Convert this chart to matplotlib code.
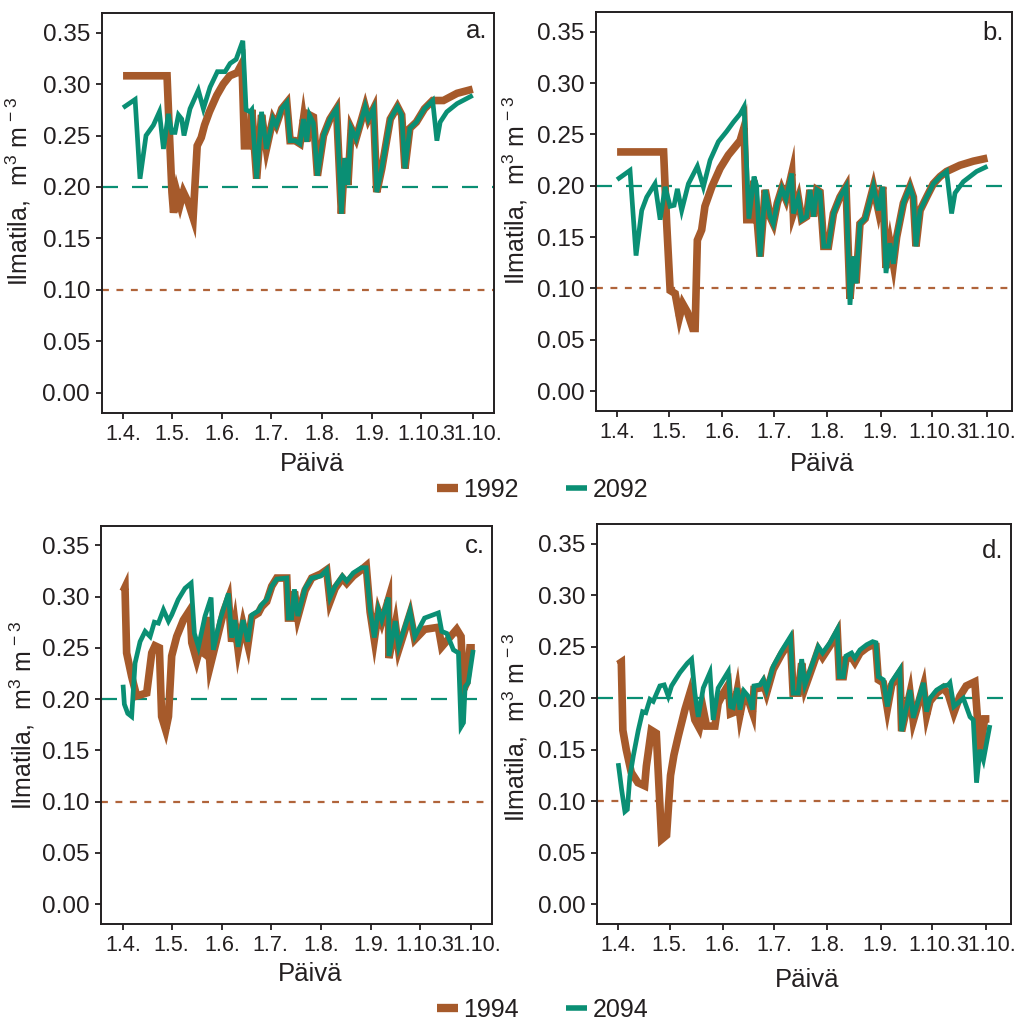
import matplotlib
matplotlib.use("Agg")
import matplotlib.pyplot as plt
from matplotlib.lines import Line2D

plt.rcParams["font.family"] = ["Liberation Sans", "DejaVu Sans"]
plt.rcParams["mathtext.fontset"] = "custom"
plt.rcParams["mathtext.rm"] = "Liberation Sans"
plt.rcParams["mathtext.it"] = "Liberation Sans:italic"

# days counted from 1.4.
tick_days = [0, 30, 61, 91, 122, 153, 183, 214.5]
tick_labels = ["1.4.", "1.5.", "1.6.", "1.7.", "1.8.", "1.9.", "1.10.", "31.10."]
y_ticks = [0.00, 0.05, 0.10, 0.15, 0.20, 0.25, 0.30, 0.35]

limit_2092 = 0.20
limit_1992 = 0.10

# panel a
a_days_1992 = [0, 27, 28.5, 30, 31, 33, 35, 37, 40, 43, 45.5, 48, 50, 53, 57.5, 61.5, 65.5, 70, 73, 74.5,
               78, 79, 82, 85, 88, 92, 94, 97.4, 100.5, 102.5, 105.6, 108.6, 110.7, 112.7, 114.4, 116.8,
               119.3, 123, 127, 131, 134, 136, 138, 140, 143, 148.6, 150.6, 153.7, 155.7, 158.8, 164,
               168.4, 171, 173, 176, 180, 185, 190, 196.6, 205, 214.6]
a_vals_1992 = [0.308, 0.308, 0.250, 0.195, 0.175, 0.195, 0.183, 0.195, 0.185, 0.170, 0.240, 0.248, 0.260,
               0.273, 0.289, 0.300, 0.308, 0.311, 0.320, 0.240, 0.240, 0.275, 0.208, 0.270, 0.237, 0.266,
               0.260, 0.276, 0.282, 0.245, 0.245, 0.242, 0.266, 0.244, 0.270, 0.268, 0.211, 0.250, 0.266,
               0.276, 0.174, 0.228, 0.202, 0.257, 0.247, 0.278, 0.266, 0.276, 0.195, 0.218, 0.266, 0.278,
               0.270, 0.218, 0.257, 0.263, 0.276, 0.284, 0.284, 0.291, 0.295]
a_days_2092 = [0, 7.4, 10.4, 14.1, 18.6, 22.3, 24.8, 27.8, 29.9, 31.9, 34, 36, 37.4, 41.1, 46.2, 49.3, 53.4,
               57.9, 62.6, 65.7, 69.4, 73.5, 75.5, 78, 79, 82, 85, 88, 92, 94, 97.4, 100.5, 102.5, 105.6,
               108.6, 110.7, 112.7, 114.4, 116.8, 119.3, 123, 127, 131, 134, 136, 138, 140, 143, 148.6,
               150.6, 153.7, 155.7, 158.8, 164, 168.4, 171, 173, 176, 180, 185, 190, 192.6, 194.6, 198.7,
               205, 214.6]
a_vals_2092 = [0.277, 0.285, 0.208, 0.250, 0.260, 0.273, 0.237, 0.271, 0.253, 0.253, 0.270, 0.266, 0.250,
               0.276, 0.294, 0.276, 0.297, 0.312, 0.312, 0.320, 0.324, 0.342, 0.275, 0.273, 0.275, 0.208,
               0.273, 0.237, 0.266, 0.260, 0.276, 0.282, 0.245, 0.245, 0.242, 0.266, 0.244, 0.270, 0.262,
               0.211, 0.250, 0.266, 0.276, 0.174, 0.228, 0.202, 0.257, 0.247, 0.278, 0.266, 0.276, 0.195,
               0.218, 0.266, 0.278, 0.270, 0.218, 0.257, 0.263, 0.276, 0.284, 0.245, 0.263, 0.273, 0.281,
               0.289]

# panel b
b_days_1992 = [0, 27, 28.8, 30.8, 33.7, 36.2, 38.1, 40.8, 43.9, 45.3, 46.6, 49.1, 51, 55, 59.8, 64.6, 68.5,
               71.4, 73.7, 75.3, 78, 79.5, 83, 86, 88.8, 90.7, 93, 95.6, 98, 101.4, 102.3, 105.2, 107.2,
               110, 112, 114, 116, 117.8, 120, 122.7, 125.6, 129.4, 132.9, 135.2, 137.2, 138.7, 141, 144,
               148.8, 151.7, 154.2, 156.1, 158.4, 160.4, 162.3, 166.2, 170, 172, 173.5, 175.9, 179.7,
               183.6, 187.5, 191.3, 199, 206.8, 215]
b_vals_1992 = [0.233, 0.233, 0.163, 0.098, 0.095, 0.072, 0.085, 0.077, 0.061, 0.061, 0.147, 0.157, 0.180,
               0.199, 0.217, 0.230, 0.238, 0.244, 0.257, 0.167, 0.167, 0.205, 0.131, 0.196, 0.170, 0.163,
               0.183, 0.197, 0.187, 0.212, 0.173, 0.188, 0.167, 0.170, 0.196, 0.170, 0.196, 0.194, 0.141,
               0.141, 0.173, 0.189, 0.199, 0.090, 0.131, 0.105, 0.163, 0.168, 0.199, 0.176, 0.199, 0.120,
               0.144, 0.124, 0.150, 0.183, 0.199, 0.189, 0.141, 0.176, 0.189, 0.202, 0.209, 0.214, 0.220,
               0.224, 0.227]
b_days_2092 = [0, 7.5, 11, 14.3, 17.2, 22, 25, 27.9, 30.8, 33.1, 35, 37.5, 41.4, 46.6, 50.1, 54, 58.8, 63.6,
               67.5, 71.4, 73.7, 76.5, 79.5, 81, 83, 86, 88.8, 90.7, 93, 95.6, 98, 101.4, 102.3, 105.2,
               107.2, 110, 112, 114, 116, 117.8, 120, 122.7, 125.6, 129.4, 132.9, 135.2, 137.2, 138.7, 141,
               144, 148.8, 151.7, 154.2, 156.1, 158.4, 160.4, 162.3, 166.2, 170, 172, 173.5, 175.9, 179.7,
               183.6, 187.5, 191.3, 194.2, 196.2, 201, 208.7, 215]
b_vals_2092 = [0.206, 0.215, 0.132, 0.176, 0.189, 0.202, 0.167, 0.199, 0.180, 0.181, 0.197, 0.176, 0.202,
               0.219, 0.199, 0.225, 0.243, 0.253, 0.262, 0.270, 0.277, 0.168, 0.209, 0.200, 0.131, 0.196,
               0.170, 0.163, 0.183, 0.197, 0.187, 0.212, 0.173, 0.188, 0.167, 0.170, 0.196, 0.170, 0.196,
               0.194, 0.141, 0.141, 0.173, 0.189, 0.199, 0.084, 0.131, 0.105, 0.163, 0.168, 0.199, 0.176,
               0.199, 0.115, 0.144, 0.124, 0.150, 0.183, 0.199, 0.189, 0.141, 0.176, 0.189, 0.202, 0.209,
               0.214, 0.173, 0.193, 0.204, 0.214, 0.219]

# panel c
c_days_1994 = [0, 1.2, 2.2, 5.3, 8.4, 14.6, 17.7, 19.7, 22.4, 23.8, 26.3, 28, 30, 33.1, 37.2, 41.3, 42.4,
               45.4, 47.1, 49.6, 51.6, 53.7, 57.8, 62, 65, 67, 69, 71, 74, 77, 79.4, 83.5, 85.5, 88.6, 91.7,
               94.8, 101, 102, 104, 105.7, 107.8, 112.3, 116.4, 122, 125.6, 127.7, 130.8, 135.3, 138, 142,
               147, 150, 152.4, 155, 157.5, 159.6, 163.7, 164, 168, 170, 177, 180, 186, 194.5, 196.6,
               205.8, 208.5, 210, 212, 214, 217]
c_vals_1994 = [0.305, 0.309, 0.245, 0.222, 0.203, 0.206, 0.245, 0.252, 0.250, 0.183, 0.170, 0.183, 0.242,
               0.261, 0.277, 0.287, 0.255, 0.238, 0.248, 0.245, 0.280, 0.232, 0.258, 0.285, 0.298, 0.256,
               0.274, 0.248, 0.273, 0.253, 0.280, 0.284, 0.290, 0.295, 0.310, 0.318, 0.318, 0.279, 0.279,
               0.305, 0.280, 0.306, 0.318, 0.322, 0.326, 0.295, 0.308, 0.318, 0.313, 0.320, 0.326, 0.330,
               0.285, 0.258, 0.285, 0.275, 0.297, 0.240, 0.273, 0.248, 0.283, 0.258, 0.268, 0.270, 0.251,
               0.268, 0.261, 0.209, 0.216, 0.250, 0.250]
c_days_2094 = [0, 0.8, 2.9, 5.3, 7.4, 10.5, 13.6, 16.7, 19.3, 21.8, 24.9, 28, 30, 34, 38.2, 42, 44, 46.5,
               50.6, 54.3, 55.7, 59.8, 65, 67, 69, 71, 74, 77, 79.4, 83.5, 85.5, 88.6, 91.7, 94.8, 101, 102,
               104, 105.7, 107.8, 112.3, 116.4, 122, 125.6, 127.7, 130.8, 135.3, 138, 142, 147, 150, 152.4,
               155, 157.5, 159.6, 163.7, 164, 168, 170, 177, 180, 186, 194.5, 196.6, 199.7, 203.8, 206.9,
               208.5, 210, 211, 213, 216]
c_vals_2094 = [0.214, 0.195, 0.186, 0.183, 0.235, 0.256, 0.266, 0.261, 0.275, 0.274, 0.287, 0.276, 0.282,
               0.297, 0.308, 0.313, 0.264, 0.251, 0.281, 0.299, 0.248, 0.277, 0.303, 0.260, 0.277, 0.251,
               0.277, 0.256, 0.282, 0.286, 0.292, 0.297, 0.310, 0.317, 0.318, 0.279, 0.279, 0.307, 0.281,
               0.308, 0.318, 0.320, 0.326, 0.299, 0.310, 0.320, 0.315, 0.323, 0.328, 0.328, 0.287, 0.260,
               0.287, 0.277, 0.299, 0.242, 0.276, 0.251, 0.286, 0.261, 0.279, 0.284, 0.266, 0.264, 0.248,
               0.245, 0.173, 0.177, 0.212, 0.216, 0.248]

# panel d
d_days_1994 = [0, 1.8, 2.7, 4.7, 7.6, 11.5, 15.4, 16.4, 19.3, 22.2, 25.3, 28.2, 30.5, 32.5, 35, 38.9, 41.8,
               44.7, 47.3, 49.6, 51.5, 56.4, 58.3, 61.3, 64.2, 65.5, 67, 69.4, 71, 73.3, 75.8, 78.4, 79.2,
               82.7, 84.6, 86.5, 90.4, 95.3, 100.5, 102, 105, 107, 108.9, 113.8, 116.7, 119.2, 123.5,
               127.8, 129, 131.3, 132.8, 136.1, 138, 141, 144.9, 148.4, 150.3, 151.7, 154.6, 157, 159.5,
               164.3, 165.3, 170.2, 172.1, 178, 179.9, 181.8, 185.7, 189.6, 192.5, 195.8, 199.3, 203, 208,
               211, 213.7, 216.5]
d_vals_1994 = [0.233, 0.235, 0.169, 0.150, 0.128, 0.118, 0.115, 0.134, 0.169, 0.166, 0.063, 0.067, 0.125,
               0.145, 0.163, 0.189, 0.205, 0.179, 0.171, 0.189, 0.173, 0.173, 0.195, 0.205, 0.213, 0.185,
               0.186, 0.207, 0.184, 0.203, 0.199, 0.186, 0.209, 0.210, 0.215, 0.205, 0.228, 0.243, 0.256,
               0.205, 0.205, 0.234, 0.210, 0.233, 0.247, 0.240, 0.251, 0.264, 0.221, 0.221, 0.238, 0.240,
               0.235, 0.244, 0.249, 0.252, 0.251, 0.218, 0.215, 0.190, 0.213, 0.225, 0.168, 0.205, 0.178,
               0.212, 0.184, 0.197, 0.205, 0.210, 0.204, 0.186, 0.202, 0.212, 0.216, 0.147, 0.180, 0.180]
d_days_2094 = [0, 2, 3.9, 5.3, 6.8, 8.8, 11.7, 14.2, 16.1, 18.5, 20.4, 24.3, 26.8, 29.2, 31.1, 36, 40.3,
               42.8, 44.7, 46.7, 49.6, 53.5, 55.4, 58.3, 64.2, 65.5, 67, 69.4, 71, 73.3, 75.8, 78.4, 79.2,
               82.7, 84.6, 86.5, 90.4, 95.3, 100.5, 102, 105, 107, 108.9, 113.8, 116.7, 119.2, 123.5,
               127.8, 129, 131.3, 132.8, 136.1, 138, 141, 144.9, 148.4, 150.3, 151.7, 154.6, 157, 159.5,
               164.3, 165.3, 170.2, 172.1, 178, 179.9, 181.8, 185.7, 189.6, 192.5, 193.5, 195.8, 201.3,
               205.2, 207.1, 209, 211, 213, 216.8]
d_vals_2094 = [0.137, 0.111, 0.090, 0.092, 0.124, 0.144, 0.169, 0.187, 0.186, 0.199, 0.197, 0.212, 0.213,
               0.202, 0.212, 0.225, 0.234, 0.238, 0.205, 0.182, 0.210, 0.225, 0.179, 0.210, 0.226, 0.192,
               0.191, 0.210, 0.189, 0.207, 0.202, 0.189, 0.212, 0.213, 0.218, 0.208, 0.231, 0.246, 0.260,
               0.205, 0.205, 0.238, 0.213, 0.236, 0.250, 0.244, 0.254, 0.267, 0.221, 0.221, 0.241, 0.244,
               0.239, 0.247, 0.252, 0.255, 0.254, 0.221, 0.218, 0.192, 0.216, 0.228, 0.168, 0.208, 0.181,
               0.215, 0.187, 0.200, 0.208, 0.212, 0.213, 0.215, 0.192, 0.200, 0.182, 0.179, 0.118, 0.150,
               0.140, 0.174]

brown = "#A65A2B"
green = "#0A8F74"
dark = "#231F20"

fig = plt.figure(figsize=(10.33, 10.23), dpi=100)

panels = [
    # rect, old, new, letter, letter_y, ylabel xy, xlabel xy, xlim
    ([0.0983, 0.5963, 0.3800, 0.3910], (a_days_1992, a_vals_1992), (a_days_2092, a_vals_2092), "a.", 0.937,
     (-0.175, 0.553), (0.536, -0.097), (-13.2, 227.7)),
    ([0.5767, 0.5982, 0.4027, 0.3897], (b_days_1992, b_vals_1992), (b_days_2092, b_vals_2092), "b.", 0.930,
     (-0.158, 0.553), (0.544, -0.103), (-12.4, 229.1)),
    ([0.0981, 0.0965, 0.3785, 0.3896], (c_days_1994, c_vals_1994), (c_days_2094, c_vals_2094), "c.", 0.932,
     (-0.164, 0.523), (0.534, -0.095), (-13.4, 227.8)),
    ([0.5779, 0.0965, 0.4008, 0.3910], (d_days_1994, d_vals_1994), (d_days_2094, d_vals_2094), "d.", 0.915,
     (-0.162, 0.493), (0.507, -0.109), (-12.4, 229.1)),
]

for rect, old, new, letter, ly, ylab_xy, xlab_xy, xlim in panels:
    ax = fig.add_axes(rect)
    ax.axhline(limit_2092, color=green, lw=1.6, dashes=(7.2, 6.3))
    ax.axhline(limit_1992, color="#B0643A", lw=1.6, dashes=(3.1, 3.4))
    ax.plot(old[0], old[1], color=brown, lw=5.5, solid_joinstyle="miter", solid_capstyle="butt")
    ax.plot(new[0], new[1], color=green, lw=3.4, solid_joinstyle="miter", solid_capstyle="butt")
    ax.set_xlim(*xlim)
    ax.set_ylim(-0.0195, 0.369)
    ax.set_xticks(tick_days)
    ax.set_xticklabels(tick_labels)
    ax.set_yticks(y_ticks)
    ax.set_yticklabels(["%.2f" % v for v in y_ticks])
    ax.tick_params(direction="out", length=4.3, width=1.3, color=dark, labelcolor=dark)
    ax.tick_params(axis="x", labelsize=15.5, pad=3.5)
    ax.tick_params(axis="y", labelsize=17.5, pad=4)
    for sp in ax.spines.values():
        sp.set_linewidth(1.4)
        sp.set_color(dark)
    ax.set_ylabel(r"Ilmatila,  m$^{3}$ m$^{\,-3}$", fontsize=18, color=dark)
    ax.yaxis.set_label_coords(*ylab_xy)
    ax.set_xlabel("Päivä", fontsize=18.5, color=dark, va="top")
    ax.xaxis.set_label_coords(*xlab_xy)
    ax.text(0.982, ly, letter, transform=ax.transAxes, ha="right", va="baseline",
            fontsize=18.5, color=dark)

def legend_at(labels, y):
    handles = [Line2D([], [], color=brown, lw=6, solid_capstyle="butt"),
               Line2D([], [], color=green, lw=4, solid_capstyle="butt")]
    fig.legend(handles, labels, loc="center", bbox_to_anchor=(0.525, y), ncol=2, frameon=False,
               fontsize=18, handlelength=0.85, handletextpad=0.2, columnspacing=1.9,
               labelcolor=dark)

legend_at(["1992", "2092"], 0.521)
legend_at(["1994", "2094"], 0.0127)

fig.savefig("out.png", dpi=100)
